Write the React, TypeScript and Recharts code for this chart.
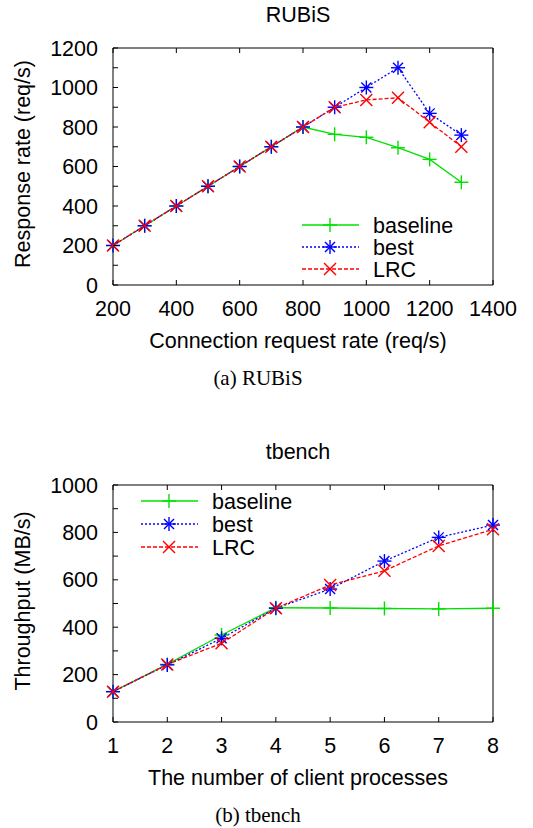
import React from "react";
import { Legend, Line, LineChart, XAxis, YAxis } from "recharts";

const rubisRate = [200, 300, 400, 500, 600, 700, 800, 900, 1000, 1100, 1200, 1300];
const rubisBaseline = [200, 300, 400, 500, 600, 700, 800, 763, 748, 695, 636, 520];
const rubisBest = [200, 300, 400, 500, 600, 700, 800, 900, 1000, 1100, 869, 759];
const rubisLrc = [200, 300, 400, 500, 600, 700, 800, 900, 937, 948, 824, 700];
const rubisXTicks = [200, 400, 600, 800, 1000, 1200, 1400];
const rubisYTicks = [0, 100, 200, 300, 400, 500, 600, 700, 800, 900, 1000, 1100, 1200];

const tbenchProcs = [1, 2, 3, 4, 5, 6, 7, 8];
const tbenchBaseline = [128, 243, 367, 482, 481, 479, 477, 480];
const tbenchBest = [128, 241, 353, 480, 561, 679, 779, 831];
const tbenchLrc = [128, 243, 332, 480, 578, 638, 743, 813];
const tbenchXTicks = [1, 2, 3, 4, 5, 6, 7, 8];
const tbenchYTicks = [0, 100, 200, 300, 400, 500, 600, 700, 800, 900, 1000];

const SANS = '"Liberation Sans", Arial, Helvetica, sans-serif';
const SERIF = '"Liberation Serif", "Times New Roman", serif';
const FS = 21.5;

const PLOT_LEFT = 113;
const PLOT_RIGHT = 493;
const PLOT_TOP = 48;
const PLOT_BOTTOM = 285;
const TICK = 5;

const GREEN = "#00e000";
const BLUE = "#0000ff";
const RED = "#ff0000";

function PlusMark({ cx, cy, color }: any) {
  const s = 7;
  return (
    <g stroke={color} strokeWidth={1.4}>
      <line x1={cx - s} y1={cy} x2={cx + s} y2={cy} />
      <line x1={cx} y1={cy - s} x2={cx} y2={cy + s} />
    </g>
  );
}

function CrossMark({ cx, cy, color }: any) {
  const s = 6;
  return (
    <g stroke={color} strokeWidth={1.4}>
      <line x1={cx - s} y1={cy - s} x2={cx + s} y2={cy + s} />
      <line x1={cx - s} y1={cy + s} x2={cx + s} y2={cy - s} />
    </g>
  );
}

function StarMark({ cx, cy, color }: any) {
  const s = 7;
  const d = 5;
  return (
    <g stroke={color} strokeWidth={1.4}>
      <line x1={cx - s} y1={cy} x2={cx + s} y2={cy} />
      <line x1={cx} y1={cy - s} x2={cx} y2={cy + s} />
      <line x1={cx - d} y1={cy - d} x2={cx + d} y2={cy + d} />
      <line x1={cx - d} y1={cy + d} x2={cx + d} y2={cy - d} />
    </g>
  );
}

const series = [
  { key: "baseline", name: "baseline", color: GREEN, dash: undefined, Mark: PlusMark },
  { key: "best", name: "best", color: BLUE, dash: "2 2", Mark: StarMark },
  { key: "lrc", name: "LRC", color: RED, dash: "4 2", Mark: CrossMark },
];

function LeftTick({ y, payload }: any) {
  const v = payload.value;
  return (
    <g>
      <line x1={PLOT_LEFT} y1={y} x2={PLOT_LEFT + TICK} y2={y} stroke="#000" />
      {v % 200 === 0 && (
        <text x={98} y={y + 7.5} textAnchor="end" fontFamily={SANS} fontSize={FS} fill="#000">
          {v}
        </text>
      )}
    </g>
  );
}

function RightTick({ y }: any) {
  return <line x1={PLOT_RIGHT} y1={y} x2={PLOT_RIGHT - TICK} y2={y} stroke="#000" />;
}

function BottomTick({ x, payload }: any) {
  return (
    <g>
      <line x1={x} y1={PLOT_BOTTOM} x2={x} y2={PLOT_BOTTOM - TICK} stroke="#000" />
      <text x={x} y={315.5} textAnchor="middle" fontFamily={SANS} fontSize={FS} fill="#000">
        {payload.value}
      </text>
    </g>
  );
}

function TopTick({ x }: any) {
  return <line x1={x} y1={PLOT_TOP} x2={x} y2={PLOT_TOP + TICK} stroke="#000" />;
}

function LegendBox({ rowGap }: { rowGap: number }) {
  return (
    <svg width={170} height={80} style={{ display: "block" }}>
      {series.map((s, i) => {
        const cy = 11 + i * rowGap;
        const M = s.Mark;
        return (
          <g key={s.key}>
            <line x1={0} y1={cy} x2={57} y2={cy} stroke={s.color} strokeWidth={1.3} strokeDasharray={s.dash} />
            <M cx={28} cy={cy} color={s.color} />
            <text x={71} y={cy + 7.5} fontFamily={SANS} fontSize={FS} fill="#000">
              {s.name}
            </text>
          </g>
        );
      })}
    </svg>
  );
}

type PanelProps = {
  top: number;
  title: string;
  xLabel: string;
  yLabel: string;
  caption: string;
  xs: number[];
  baseline: number[];
  best: number[];
  lrc: number[];
  xTicks: number[];
  yTicks: number[];
  legendPos: { left: number; top: number; gap: number };
};

function Panel(p: PanelProps) {
  const rows = p.xs.map((x, i) => ({ x, baseline: p.baseline[i], best: p.best[i], lrc: p.lrc[i] }));
  const xDomain = [p.xTicks[0], p.xTicks[p.xTicks.length - 1]];
  const yDomain = [p.yTicks[0], p.yTicks[p.yTicks.length - 1]];
  const label: React.CSSProperties = {
    position: "absolute",
    fontFamily: SANS,
    fontSize: FS,
    whiteSpace: "nowrap",
    lineHeight: "22px",
    transform: "translate(-50%, -50%)",
  };
  return (
    <div style={{ position: "absolute", left: 0, top: p.top, width: 533, height: 392 }}>
      <LineChart width={533} height={360} data={rows} margin={{ top: 0, right: 0, bottom: 0, left: 0 }}>
        <XAxis
          xAxisId="b"
          dataKey="x"
          type="number"
          domain={xDomain}
          ticks={p.xTicks}
          interval={0}
          height={75}
          tickLine={false}
          axisLine={{ stroke: "#000" }}
          tick={<BottomTick />}
        />
        <XAxis
          xAxisId="t"
          orientation="top"
          dataKey="x"
          type="number"
          domain={xDomain}
          ticks={p.xTicks}
          interval={0}
          height={48}
          tickLine={false}
          axisLine={{ stroke: "#000" }}
          tick={<TopTick />}
        />
        <YAxis
          yAxisId="l"
          type="number"
          domain={yDomain}
          ticks={p.yTicks}
          interval={0}
          width={113}
          tickLine={false}
          axisLine={{ stroke: "#000" }}
          tick={<LeftTick />}
        />
        <YAxis
          yAxisId="r"
          orientation="right"
          type="number"
          domain={yDomain}
          ticks={p.yTicks}
          interval={0}
          width={40}
          tickLine={false}
          axisLine={{ stroke: "#000" }}
          tick={<RightTick />}
        />
        {series.map((s) => (
          <Line
            key={s.key}
            xAxisId="b"
            yAxisId="l"
            type="linear"
            dataKey={s.key}
            name={s.name}
            stroke={s.color}
            strokeWidth={1.3}
            strokeDasharray={s.dash}
            dot={(d: any) => <s.Mark key={`${s.key}-${d.index}`} cx={d.cx} cy={d.cy} color={s.color} />}
            activeDot={false}
            isAnimationActive={false}
          />
        ))}
        <Legend
          layout="vertical"
          align="center"
          verticalAlign="middle"
          wrapperStyle={{ left: p.legendPos.left, top: p.legendPos.top, width: 170, height: 80 }}
          content={() => <LegendBox rowGap={p.legendPos.gap} />}
        />
      </LineChart>
      <div style={{ ...label, left: 298, top: 15 }}>{p.title}</div>
      <div style={{ ...label, left: 298, top: 341 }}>{p.xLabel}</div>
      <div style={{ ...label, left: 23, top: 164, transform: "translate(-50%, -50%) rotate(-90deg)" }}>{p.yLabel}</div>
      <div style={{ ...label, fontFamily: SERIF, fontSize: 21, left: 258, top: 378 }}>{p.caption}</div>
    </div>
  );
}

export default function App() {
  return (
    <div style={{ position: "absolute", left: 0, top: 0, width: 533, height: 828, background: "#fff" }}>
      <Panel
        top={0}
        title="RUBiS"
        xLabel="Connection request rate (req/s)"
        yLabel="Response rate (req/s)"
        caption="(a) RUBiS"
        xs={rubisRate}
        baseline={rubisBaseline}
        best={rubisBest}
        lrc={rubisLrc}
        xTicks={rubisXTicks}
        yTicks={rubisYTicks}
        legendPos={{ left: 302, top: 214, gap: 22 }}
      />
      <Panel
        top={437}
        title="tbench"
        xLabel="The number of client processes"
        yLabel="Throughput (MB/s)"
        caption="(b) tbench"
        xs={tbenchProcs}
        baseline={tbenchBaseline}
        best={tbenchBest}
        lrc={tbenchLrc}
        xTicks={tbenchXTicks}
        yTicks={tbenchYTicks}
        legendPos={{ left: 141, top: 53, gap: 23 }}
      />
    </div>
  );
}
